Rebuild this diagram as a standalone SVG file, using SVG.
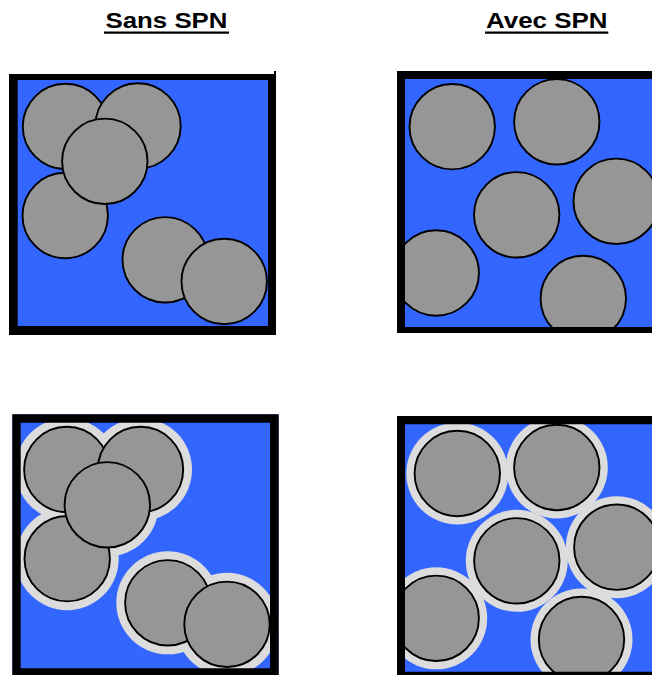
<svg xmlns="http://www.w3.org/2000/svg" width="652" height="675" viewBox="0 0 652 675">
<style>
.bg{fill:#3366ff}
.p{fill:#969696;stroke:#000;stroke-width:1.9}
.h{fill:#dcdcdc}
.fr{fill:#000;fill-rule:evenodd}
.t{font-family:"Liberation Sans",Arial,sans-serif;font-weight:bold;font-size:22px;fill:#000}
.ul{stroke:#000;stroke-width:2.2}
</style>
<defs>
<clipPath id="c1"><rect x="9" y="74" width="267" height="261"/></clipPath>
<clipPath id="c2"><rect x="397" y="71" width="260" height="262"/></clipPath>
<clipPath id="c3"><rect x="12.3" y="414.3" width="266.4" height="265"/></clipPath>
<clipPath id="c4"><rect x="397" y="416" width="260" height="265"/></clipPath>
</defs>

<g id="titles">
<text class="t" x="105.5" y="27.7" textLength="122" lengthAdjust="spacingAndGlyphs">Sans SPN</text>
<line class="ul" x1="104" y1="32.7" x2="229" y2="32.7"/>
<text class="t" x="486" y="27.7" textLength="121.5" lengthAdjust="spacingAndGlyphs">Avec SPN</text>
<line class="ul" x1="485" y1="32.7" x2="608.3" y2="32.7"/>
</g>

<g id="panel-sans-1">
<g clip-path="url(#c1)">
<rect class="bg" x="9" y="74" width="267" height="261"/>
<circle class="p" cx="65.5" cy="126.5" r="42.7"/>
<circle class="p" cx="138" cy="126" r="42.7"/>
<circle class="p" cx="65.2" cy="215.5" r="42.7"/>
<circle class="p" cx="104.8" cy="161.3" r="42.7"/>
<circle class="p" cx="165.2" cy="259.8" r="42.7"/>
<circle class="p" cx="224.2" cy="281.5" r="42.7"/>
</g>
<path class="fr" d="M9 74H276V335H9Z M17.7 80V326H268V80Z"/>
<rect x="274" y="71" width="2" height="4" fill="#000"/>
</g>

<g id="panel-avec-1">
<g clip-path="url(#c2)">
<rect class="bg" x="397" y="71" width="260" height="262"/>
<circle class="p" cx="452.2" cy="126.7" r="42.7"/>
<circle class="p" cx="556.8" cy="121.8" r="42.7"/>
<circle class="p" cx="516.7" cy="214.8" r="42.7"/>
<circle class="p" cx="616.2" cy="201.3" r="42.7"/>
<circle class="p" cx="436.2" cy="273" r="42.7"/>
<circle class="p" cx="583.3" cy="298.5" r="42.7"/>
</g>
<path class="fr" d="M397 71H660V333H397Z M405 79V327H660V79Z"/>
</g>

<g id="panel-sans-2">
<g clip-path="url(#c3)">
<rect class="bg" x="12.3" y="414.3" width="266.4" height="265"/>
<circle class="h" cx="66.8" cy="469.5" r="51.5"/>
<circle class="h" cx="140.5" cy="469.5" r="51.5"/>
<circle class="h" cx="67.2" cy="558.7" r="51.5"/>
<circle class="h" cx="107.3" cy="504.8" r="51.5"/>
<circle class="h" cx="167.8" cy="602.8" r="51.5"/>
<circle class="h" cx="227" cy="624.3" r="51.5"/>
<circle class="p" cx="66.8" cy="469.5" r="42.7"/>
<circle class="p" cx="140.5" cy="469.5" r="42.7"/>
<circle class="p" cx="67.2" cy="558.7" r="42.7"/>
<circle class="p" cx="107.3" cy="504.8" r="42.7"/>
<circle class="p" cx="167.8" cy="602.8" r="42.7"/>
<circle class="p" cx="227" cy="624.3" r="42.7"/>
</g>
<path class="fr" d="M12.3 414.3H278.7V680H12.3Z M20.7 422.7V668.3H270V422.7Z"/>
</g>

<g id="panel-avec-2">
<g clip-path="url(#c4)">
<rect class="bg" x="397" y="416" width="260" height="265"/>
<circle class="h" cx="457.3" cy="473.5" r="51"/>
<circle class="h" cx="556.8" cy="467.5" r="51"/>
<circle class="h" cx="516.8" cy="560.8" r="51"/>
<circle class="h" cx="616.8" cy="547.2" r="51"/>
<circle class="h" cx="436.2" cy="618.3" r="51"/>
<circle class="h" cx="581.5" cy="639.5" r="51"/>
<circle class="p" cx="457.3" cy="473.5" r="42.7"/>
<circle class="p" cx="556.8" cy="467.5" r="42.7"/>
<circle class="p" cx="516.8" cy="560.8" r="42.7"/>
<circle class="p" cx="616.8" cy="547.2" r="42.7"/>
<circle class="p" cx="436.2" cy="618.3" r="42.7"/>
<circle class="p" cx="581.5" cy="639.5" r="42.7"/>
</g>
<path class="fr" d="M397 416H660V680H397Z M405 424.3V671.7H660V424.3Z"/>
</g>
</svg>
